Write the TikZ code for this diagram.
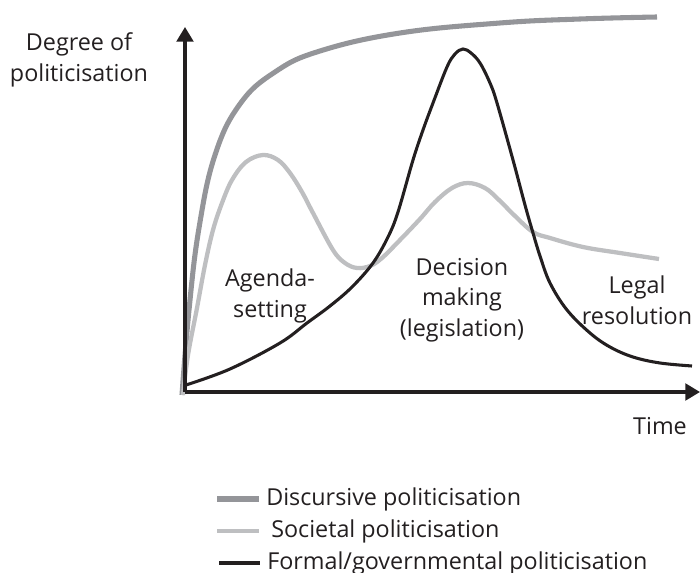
\documentclass[tikz,border=0pt]{standalone}
\usepackage{fontspec}
\setmainfont{Open Sans}
\usepackage{tikz}
\usetikzlibrary{positioning, arrows.meta}

\definecolor{discgray}{RGB}{148,149,153}
\definecolor{socgray}{RGB}{190,191,193}
\definecolor{formblack}{RGB}{35,31,32}

\begin{document}
\begin{tikzpicture}[
    x=0.75pt, y=-0.75pt,
    axis/.style={draw=formblack, line width=2.4pt, -{Triangle[length=11pt, width=12.5pt]}},
    discursive/.style={draw=discgray, line width=3.8pt},
    societal/.style={draw=socgray, line width=3.2pt},
    formal/.style={draw=formblack, line width=2.3pt},
    label/.style={font=\fontsize{17.5}{23}\selectfont, text=formblack, align=center, inner sep=0pt},
    legendtext/.style={label, anchor=west}
]
    \useasboundingbox (0,0) rectangle (700,573);

    % Curves
    \draw[discursive] plot[smooth, tension=0.7] coordinates {
        (182,395) (189,310) (199,228) (215,155) (240,104) (275,72)
        (320,51) (400,33) (500,23) (580,19) (657,17)};
    \draw[societal] plot[smooth, tension=0.6] coordinates {
        (183,395) (188,355) (197,308) (205,265) (213,230) (222,203) (232,180)
        (246,162) (263,155) (278,160) (290,173) (302,192) (313,213) (333,250)
        (345,263) (357,268) (370,266) (382,258) (400,240) (420,219) (435,202)
        (452,188) (468,183) (485,188) (499,200) (515,216) (533,232) (550,238)
        (583,247) (620,253) (659,259)};
    \draw[formal] plot[smooth, tension=0.6] coordinates {
        (186,385) (230,369) (280,343) (307,323) (330,306) (352,287) (373,263)
        (388,237) (398,212) (413,160) (423,130) (433,103) (447,67) (455,54)
        (463,49) (471,53) (480,63) (490,83) (497,103) (513,160) (525,205)
        (533,233) (540,256) (550,283) (567,310) (590,333) (610,347) (633,357)
        (660,363) (692,366)};

    % Axes
    \coordinate (origin) at (185,392);
    \coordinate (ytip) at (185,27);
    \coordinate (xtip) at (700,392);
    \draw[axis] (origin) -- (ytip);
    \draw[axis] (origin) -- (xtip);

    % Axis labels
    \node[label] (ylabel) at (79,60) {Degree of\\politicisation};
    \node[label] (xlabel) at (660,426) {Time};

    % Phases
    \node[label] (agenda) at (270,296) {Agenda-\\setting};
    \node[label] (decision) at (462,300) {Decision\\making\\(legislation)};
    \node[label] (legal) at (637,300) {Legal\\resolution};

    % Legend
    \coordinate (l1a) at (217,499);
    \coordinate (l1b) at (259,499);
    \coordinate (l2a) at (217,531);
    \coordinate (l2b) at (259,531);
    \coordinate (l3a) at (219,563);
    \coordinate (l3b) at (260,563);
    \draw[discursive, line width=4.2pt] (l1a) -- (l1b);
    \draw[societal] (l2a) -- (l2b);
    \draw[formal] (l3a) -- (l3b);
    \node[legendtext] (leg1) at (266,499) {Discursive politicisation};
    \node[legendtext] (leg2) at (271,531) {Societal politicisation};
    \node[legendtext] (leg3) at (267,563) {Formal/governmental politicisation};

\end{tikzpicture}
\end{document}
